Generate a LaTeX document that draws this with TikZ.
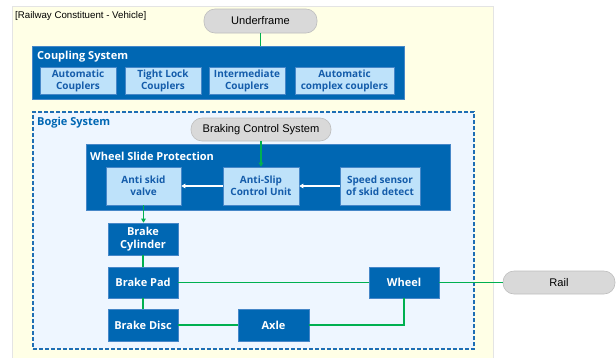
\documentclass[tikz,border=0pt]{standalone}
\usepackage{fontspec}
\setmainfont{Liberation Sans}
\newfontfamily\boxfont{Open Sans}
\usetikzlibrary{
    arrows.meta,
    positioning,
    calc
}
\definecolor{panelYellow}{RGB}{255, 255, 230}
\definecolor{panelBorder}{RGB}{228, 228, 228}
\definecolor{bogieFill}{RGB}{238, 246, 255}
\definecolor{bogieBlue}{RGB}{30, 110, 180}
\definecolor{sysBlue}{RGB}{0, 103, 179}
\definecolor{sysEdge}{RGB}{70, 135, 200}
\definecolor{itemFill}{RGB}{190, 226, 250}
\definecolor{itemText}{RGB}{20, 92, 170}
\definecolor{pillGray}{RGB}{217, 217, 217}
\definecolor{pillEdge}{RGB}{190, 190, 190}
\definecolor{linkGreen}{RGB}{0, 176, 80}
\tikzset{
    panel/.style={
        rectangle,
        fill=panelYellow,
        draw=panelBorder,
        line width=0.8pt,
        inner sep=0pt
    },
    bogieBox/.style={
        rectangle,
        fill=bogieFill,
        draw=bogieBlue,
        line width=1.2pt,
        dash pattern=on 4pt off 2pt,
        inner sep=0pt
    },
    group/.style={
        rectangle,
        fill=sysBlue,
        draw=sysEdge,
        line width=0.6pt,
        inner sep=0pt
    },
    groupTitle/.style={
        anchor=west,
        inner sep=0pt,
        text=white,
        font=\boxfont\bfseries\fontsize{11}{13}\selectfont
    },
    bogieTitle/.style={
        groupTitle,
        text=sysBlue
    },
    part/.style={
        rectangle,
        fill=sysBlue,
        draw=sysEdge,
        line width=0.6pt,
        text=white,
        align=center,
        inner sep=0pt,
        font=\boxfont\bfseries\fontsize{11}{13}\selectfont
    },
    item/.style={
        rectangle,
        fill=itemFill,
        draw=sysEdge,
        line width=0.6pt,
        text=itemText,
        align=center,
        inner sep=0pt,
        minimum height=27pt,
        font=\boxfont\bfseries\fontsize{10}{12}\selectfont
    },
    pill/.style={
        rectangle,
        rounded corners=11pt,
        fill=pillGray,
        draw=pillEdge,
        line width=0.6pt,
        inner sep=0pt,
        font=\fontsize{11.1}{13}\selectfont
    },
    link/.style={
        draw=linkGreen,
        line width=1.5pt
    },
    flow/.style={
        link,
        -{Triangle[length=4pt,width=4.5pt]}
    },
    signal/.style={
        draw=white,
        line width=1.3pt,
        -{Triangle[length=4pt,width=4.5pt]}
    }
}

\begin{document}
\begin{tikzpicture}[x=1pt, y=-1pt]
    \useasboundingbox (0,0) rectangle (616,357);

    % Vehicle panel
    \node[panel, minimum width=481pt, minimum height=352pt] (vehicle) at (252.5,182) {};
    \node[anchor=west, inner sep=0pt, font=\fontsize{9.7}{11}\selectfont] (vehicleLabel) at (15,16) {[Railway Constituent - Vehicle]};

    % Underframe and coupling
    \node[pill, minimum width=113pt, minimum height=24pt] (underframe) at (260.5,21) {Underframe};
    \node[group, minimum width=372pt, minimum height=53pt] (coupling) at (218,72.5) {};
    \node[groupTitle] (couplingTitle) at (37,57) {Coupling System};
    \node[item, minimum width=76pt] (autoCoupler) at (78,80.5) {Automatic\\Couplers};
    \node[item, minimum width=76pt] (tightCoupler) at (163,80.5) {Tight Lock\\Couplers};
    \node[item, minimum width=76pt] (interCoupler) at (247,80.5) {Intermediate\\Couplers};
    \node[item, minimum width=99pt] (complexCoupler) at (344.5,80.5) {Automatic\\complex couplers};

    % Bogie system
    \node[bogieBox, minimum width=441pt, minimum height=237pt] (bogie) at (253.5,230.5) {};
    \node[bogieTitle] (bogieTitle) at (37,123) {Bogie System};
    \node[pill, minimum width=140pt, minimum height=23pt] (braking) at (261,129.5) {Braking Control System};

    % Wheel slide protection
    \node[group, minimum width=364pt, minimum height=66pt] (wsp) at (268,177) {};
    \node[groupTitle] (wspTitle) at (90,156) {Wheel Slide Protection};
    \node[item, minimum width=75pt, minimum height=38pt] (valve) at (143.5,186) {Anti skid\\valve};
    \node[item, minimum width=76pt, minimum height=38pt] (antiSlip) at (261,186) {Anti-Slip\\Control Unit};
    \node[item, minimum width=80pt, minimum height=38pt] (sensor) at (380,186) {Speed sensor\\of skid detect};

    % Brake parts
    \node[part, minimum width=70pt, minimum height=32pt] (cylinder) at (143,239) {Brake\\Cylinder};
    \node[part, minimum width=70pt, minimum height=31pt] (pad) at (143,282.5) {Brake Pad};
    \node[part, minimum width=70pt, minimum height=32pt] (disc) at (143,325) {Brake Disc};
    \node[part, minimum width=71pt, minimum height=32pt] (axle) at (273.5,325) {Axle};
    \node[part, minimum width=70pt, minimum height=31pt] (wheel) at (404,282.5) {Wheel};
    \node[pill, minimum width=112pt, minimum height=23pt] (rail) at (559,282.5) {Rail};

    % Connections
    \draw[link] (underframe) -- (coupling.north -| underframe);
    \draw[flow] (braking) -- (antiSlip);
    \draw[signal] (sensor) -- (antiSlip);
    \draw[signal] (antiSlip) -- (valve);
    \draw[flow] (valve.south) -- (valve.south |- cylinder.north);
    \draw[link] (cylinder) -- (pad);
    \draw[link] (pad) -- (disc);
    \draw[link] (pad) -- (wheel);
    \draw[link] (disc) -- (axle);
    \draw[link] (axle) -| (wheel);
    \draw[link] (wheel) -- (rail);
\end{tikzpicture}
\end{document}
